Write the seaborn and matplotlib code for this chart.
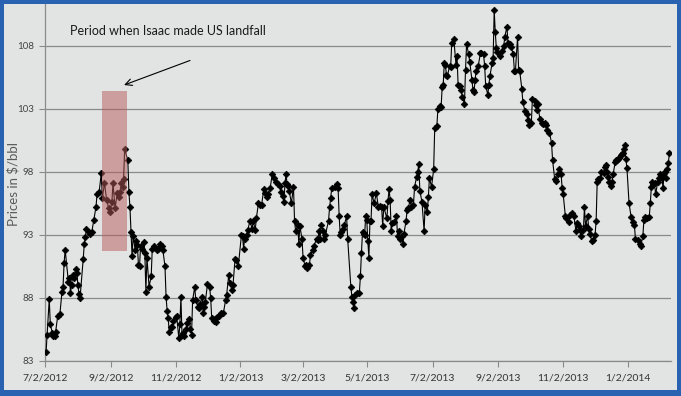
import matplotlib
matplotlib.use("Agg")
import matplotlib.pyplot as plt
from matplotlib.patches import Rectangle
import matplotlib.dates as mdates
import pandas as pd
import seaborn as sns

# ---------------- data ----------------
start_date = "2012-07-02"
# days since start_date for each trading-day observation
days = [
    1, 2, 4, 5, 7, 8, 9, 10, 12, 14, 16, 17, 18, 19, 22, 23, 24, 25, 26, 27, 29, 30, 31, 32, 33,
    36, 37, 38, 39, 41, 42, 44, 46, 48, 49, 51, 53, 54, 56, 58, 60, 61, 63, 64, 66, 68, 70, 71, 72, 73, 74, 75,
    78, 79, 80, 81, 82, 83, 85, 86, 87, 88, 89, 90, 91, 93, 94, 95, 96, 98, 100, 101, 103, 105, 106, 108, 110, 111,
    113, 114, 115, 116, 117, 119, 120, 121, 123, 124, 126, 127, 128, 129, 130, 131, 133, 134, 136, 137, 138, 139,
    141, 142, 144, 145, 146, 148, 149, 150, 151, 153, 155, 156,
    157, 159, 160, 161, 162, 164, 166, 168, 170, 171, 173, 174, 176, 177, 179, 180, 182, 185, 186, 187, 188, 190,
    191, 193, 195, 196, 198, 199,
    201, 202, 204, 206, 207, 209, 210, 212, 214, 216, 218, 219, 221, 222, 224, 225, 226, 227, 228, 229, 230, 232,
    234, 235, 236, 238, 239, 240, 242, 243,
    245, 246, 247, 249, 250, 252, 253, 256, 257, 258, 259, 260, 262, 263, 264, 267, 268, 269, 270, 273, 275, 276,
    277, 278, 279, 281, 282, 284, 285,
    288, 289, 290, 291, 292, 294, 296, 297, 298, 299, 300, 301, 302, 303, 304, 305, 306, 307, 308, 310, 312, 314,
    315, 317, 318, 319, 322, 323, 324, 325, 326, 327, 329,
    331, 332, 333, 334, 336, 337, 338, 340, 341, 342, 344, 345, 347, 348, 350, 351, 352, 353, 355, 357, 358, 360,
    361, 362, 364, 366,
    367, 369, 370, 372, 373, 374, 375, 376, 377, 378, 379, 381, 382, 383, 385, 387, 388, 389, 391, 392, 393, 395,
    396, 397, 399, 400, 402, 403, 404, 405, 406, 408, 410, 411, 413, 414, 415, 417, 418, 419,
    421, 422, 423, 424, 425, 426, 428, 430, 432, 433, 435, 436, 438, 439, 441, 442, 443, 445, 446, 447,
    449, 450, 452, 454, 455, 456, 458, 459, 461, 462, 463, 464, 466, 468, 469, 471, 472, 473, 475, 477, 478, 480,
    481, 483, 484, 486, 487, 488,
    490, 491, 493, 494, 496, 498, 500, 501, 503, 504, 505, 507, 508, 509, 511, 512, 513, 515, 516, 518, 519, 520,
    521, 523, 524, 526, 527, 528, 529, 530, 531, 533, 534, 535,
    537, 538, 539, 540, 541, 542, 543, 544, 545, 546, 547, 548, 550, 552, 554, 555, 556, 558, 560, 561, 563, 564,
    565, 567, 569, 570, 571, 572, 573, 574, 575, 577, 578, 579, 581, 582, 583, 584, 585, 586, 587, 588,
]
prices = [
    83.7, 85.1, 87.9, 85.9, 85.2, 85.0, 85.0, 85.3, 86.6, 86.7, 88.5, 88.9, 90.8, 91.8, 89.3, 89.6, 88.4, 89.0, 89.8, 89.6, 90.3, 90.0, 89.0, 88.3, 88.0,
    91.1, 92.3, 92.8, 93.5, 93.2, 93.1, 93.2, 94.2, 95.2, 96.2, 96.4, 97.9, 95.9, 97.1, 95.8, 95.1, 94.8, 95.6, 97.1, 95.1, 96.3, 96.0, 96.4, 97.1, 96.8, 97.4, 99.8,
    98.9, 96.4, 95.2, 93.2, 91.3, 92.9, 91.8, 92.5, 92.2, 90.6, 90.5, 92.1, 91.9, 92.4, 91.6, 88.5, 91.2, 88.9, 89.7, 91.9, 92.1, 91.8, 91.9, 92.3, 92.1, 91.8,
    90.5, 88.1, 87.0, 86.4, 85.3, 85.7, 85.7, 86.2, 86.5, 86.6, 84.8, 85.9, 88.1, 85.1, 85.2, 85.0, 85.5, 86.0, 86.3, 85.5, 85.1, 87.8,
    88.9, 87.8, 87.3, 87.2, 87.5, 88.1, 86.8, 87.3, 87.7, 89.1, 88.9, 88.0,
    86.4, 86.2, 86.3, 86.1, 86.5, 86.6, 86.8, 86.8, 87.8, 88.2, 89.8, 89.2, 88.6, 89.0, 91.1, 91.0, 90.5, 93.0, 92.9, 91.9, 92.7, 93.0,
    93.4, 94.1, 93.5, 94.1, 93.4, 94.3,
    95.5, 95.4, 95.4, 96.6, 96.3, 96.0, 96.2, 96.7, 97.8, 97.5, 97.2, 97.0, 96.9, 96.4, 96.1, 95.6, 97.1, 97.8, 97.0, 96.9, 96.5, 95.5,
    96.8, 94.1, 93.3, 93.8, 92.3, 93.7, 92.7, 91.2,
    90.5, 90.6, 90.4, 90.6, 91.4, 91.8, 92.1, 92.7, 92.6, 93.3, 92.7, 93.8, 93.3, 92.7, 93.0, 94.1, 95.2, 95.9, 96.7, 96.8, 97.0, 96.7,
    94.5, 93.0, 93.2, 93.5, 93.8, 94.5, 92.7,
    88.9, 88.1, 87.7, 87.2, 88.2, 88.4, 88.4, 89.7, 91.6, 93.2, 93.1, 93.0, 94.5, 94.2, 92.5, 91.2, 94.1, 94.1, 96.2, 95.5, 96.3, 95.2,
    95.3, 95.2, 93.7, 95.2, 94.3, 95.7, 96.6, 95.8, 93.3, 93.9, 94.0,
    94.5, 92.9, 93.3, 92.7, 92.9, 92.3, 93.1, 94.1, 95.0, 95.1, 95.8, 95.2, 95.4, 96.8, 97.6, 98.0, 98.6, 96.5, 95.6, 93.3, 95.4, 94.8,
    96.0, 97.5, 96.8, 98.2,
    101.5, 101.6, 103.0, 103.2, 103.1, 104.7, 104.9, 106.6, 106.5, 105.7, 105.6, 106.4, 106.3, 108.2, 108.5, 106.5, 107.2, 104.9, 104.8, 104.5, 103.9, 103.4,
    106.1, 108.1, 107.3, 106.7, 105.3, 104.5, 104.3, 105.3, 106.0, 106.4, 107.4, 107.4, 107.3, 106.4, 104.8, 104.1, 104.9, 105.6,
    106.6, 107.0, 110.8, 109.1, 107.8, 107.5, 107.2, 107.6, 108.0, 108.7, 109.5, 108.2, 108.1, 107.9, 107.3, 106.0, 106.0, 108.7, 106.1, 106.0,
    104.6, 103.5, 102.8, 102.6, 102.1, 101.7, 101.9, 103.8, 103.6, 103.3, 102.9, 103.4, 102.2, 101.9, 101.8, 101.9, 101.7, 101.3, 101.1, 100.3, 98.9, 97.4,
    97.3, 97.8, 98.2, 97.8, 96.7, 96.2,
    94.5, 94.3, 94.0, 94.6, 94.7, 94.5, 93.3, 93.9, 93.7, 93.4, 92.9, 93.4, 95.2, 93.7, 94.5, 93.5, 93.1, 92.5, 92.6, 93.0, 94.1, 97.2,
    97.4, 97.5, 98.0, 97.9, 98.4, 98.5, 98.0, 97.6, 97.2, 96.9, 97.2, 97.8,
    98.8, 98.9, 98.9, 99.0, 99.1, 99.3, 99.4, 99.5, 99.8, 100.1, 99.0, 98.3, 95.5, 94.4, 94.0, 93.8, 92.7, 92.6, 92.3, 92.1, 92.9, 94.2,
    94.4, 94.3, 94.4, 95.5, 96.8, 97.2, 97.0, 97.1, 96.2, 97.2, 97.5, 97.8, 97.5, 96.7, 97.9, 98.0, 97.5, 98.2, 98.7, 99.5,
]
assert len(days) == len(prices), (len(days), len(prices))

ytick_values = [83, 88, 93, 98, 103, 108]
y_limits = (83, 111.3)
xtick_dates = ["2012-07-02", "2012-09-02", "2012-11-02", "2013-01-02", "2013-03-02",
               "2013-05-01", "2013-07-02", "2013-09-02", "2013-11-02", "2014-01-02"]
xtick_labels = ["7/2/2012", "9/2/2012", "11/2/2012", "1/2/2013", "3/2/2013",
                "5/1/2013", "7/2/2013", "9/2/2013", "11/2/2013", "1/2/2014"]
x_limits = ("2012-07-02", "2014-02-11 12:00")

isaac_start, isaac_end = "2012-08-25", "2012-09-17"
isaac_low, isaac_high = 91.7, 104.4
arrow_head = ("2012-09-12", 104.8)
arrow_tail = ("2012-11-18", 106.9)
annotation_text = "Period when Isaac made US landfall"
y_label = "Prices in $/bbl"

# ---------------- drawing ----------------
sns.set_style("white")
plt.rcParams["font.family"] = ["Lato", "DejaVu Sans"]

W, H = 681, 396
fig = plt.figure(figsize=(W / 100, H / 100), dpi=100)
fig.patch.set_facecolor("#2a62b2")
panel = Rectangle((4 / W, 6 / H), (677 - 4) / W, (392 - 6) / H, transform=fig.transFigure,
                  facecolor="#e2e3e3", edgecolor="none", zorder=-10)
fig.patches.append(panel)

ax = fig.add_axes([45 / W, 1 - 361 / H, (671 - 45) / W, (361 - 4) / H])
ax.set_facecolor("none")
ax.set_zorder(1)

df = pd.DataFrame({
    "date": pd.Timestamp(start_date) + pd.to_timedelta(days, unit="D"),
    "price": prices,
})
sns.lineplot(data=df, x="date", y="price", ax=ax, color="black", linewidth=0.8,
             marker="D", markersize=3.4, markeredgecolor="black", markeredgewidth=0.5,
             zorder=3)

x0 = mdates.date2num(pd.Timestamp(isaac_start))
x1 = mdates.date2num(pd.Timestamp(isaac_end))
ax.add_patch(Rectangle((x0, isaac_low), x1 - x0, isaac_high - isaac_low,
                       facecolor="#b85a5a", alpha=0.5, edgecolor="none", zorder=4))

ax.annotate("", xy=(mdates.date2num(pd.Timestamp(arrow_head[0])), arrow_head[1]),
            xytext=(mdates.date2num(pd.Timestamp(arrow_tail[0])), arrow_tail[1]),
            arrowprops=dict(arrowstyle="->", color="black", lw=0.8, mutation_scale=12),
            zorder=5)
ax.text(0.04, 0.925, annotation_text, transform=ax.transAxes, fontsize=9,
        color="#1a1a1a", ha="left", va="center")

ax.set_xlim(pd.Timestamp(x_limits[0]), pd.Timestamp(x_limits[1]))
ax.set_ylim(*y_limits)
ax.set_xticks([pd.Timestamp(d) for d in xtick_dates])
ax.set_xticklabels(xtick_labels)
ax.set_yticks(ytick_values)
ax.set_yticklabels([str(v) for v in ytick_values])

ax.yaxis.grid(True, color="#8a8a8a", linewidth=0.9)
ax.xaxis.grid(False)
ax.set_axisbelow(True)
for side in ("top", "right"):
    ax.spines[side].set_visible(False)
for side in ("left", "bottom"):
    ax.spines[side].set_color("#8a8a8a")
    ax.spines[side].set_linewidth(0.9)

ax.tick_params(axis="x", direction="out", length=4, width=0.8, color="#8a8a8a",
               labelsize=7.5, labelcolor="#333333", pad=5, bottom=True)
ax.tick_params(axis="y", direction="out", length=4, width=0.8, color="#8a8a8a",
               labelsize=7, labelcolor="#444444", pad=4, left=True)

ax.set_xlabel("")
ax.set_ylabel("")
fig.text(13 / W, 1 - 184 / H, y_label, rotation=90, ha="center", va="center",
         color="#5a5a5a", fontsize=9.5)

fig.savefig("out.png", dpi=100, facecolor=fig.get_facecolor())
